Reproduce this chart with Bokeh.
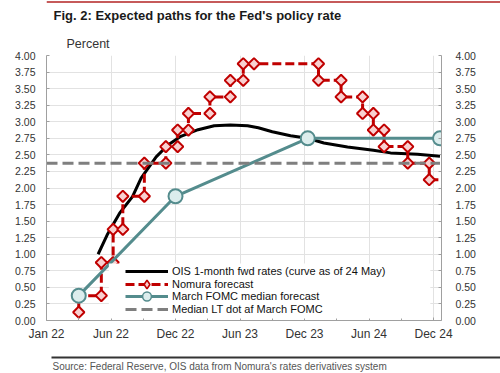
from bokeh.plotting import figure
from bokeh.layouts import column
from bokeh.models import (Range1d, LinearAxis, FixedTicker, Legend, LegendItem,
                          BoxAnnotation, PrintfTickFormatter)
from bokeh.core.properties import value
from bokeh.embed import file_html
from bokeh.resources import INLINE
import numpy as np

# ---------------- data ----------------
x_ticks = [0, 6, 12, 18, 24, 30, 36]
x_tick_labels = ["Jan 22", "Jun 22", "Dec 22", "Jun 23", "Dec 23", "Jun 24", "Dec 24"]
x_minor_ticks = [3, 9, 15, 21, 27, 33]
y_ticks = [0.0, 0.25, 0.5, 0.75, 1.0, 1.25, 1.5, 1.75, 2.0, 2.25, 2.5, 2.75,
           3.0, 3.25, 3.5, 3.75, 4.0]

ois_month = [4.8, 5.7, 6.8, 8.0, 8.8, 10.2, 11.3, 12.5, 14.1, 15.6, 17.1, 18.7,
             19.7, 21.0, 22.7, 24.3, 25.8, 28.0, 30.4, 32.0, 34.5, 36.6]
ois_rate = [1.00, 1.31, 1.62, 1.87, 2.15, 2.47, 2.65, 2.78, 2.88, 2.94, 2.95, 2.94,
            2.91, 2.85, 2.79, 2.75, 2.68, 2.62, 2.57, 2.53, 2.51, 2.48]

nomura_month = [3.0, 3.0, 5.1, 5.1, 6.2, 6.2, 7.1, 7.1, 9.1, 9.1, 11.1, 11.1,
                12.2, 12.2, 13.2, 13.2, 15.2, 15.2, 17.1, 17.1, 18.3, 18.3, 19.3,
                25.3, 25.3, 27.4, 27.4, 29.4, 29.4, 30.4, 30.4, 31.4, 31.4,
                33.6, 33.6, 35.6, 35.6, 36.6]
nomura_rate = [0.125, 0.375, 0.375, 0.875, 0.875, 1.375, 1.375, 1.875, 1.875, 2.375,
               2.375, 2.625, 2.625, 2.875, 2.875, 3.125, 3.125, 3.375, 3.375, 3.625,
               3.625, 3.875, 3.875, 3.875, 3.625, 3.625, 3.375, 3.375, 3.125, 3.125,
               2.875, 2.875, 2.625, 2.625, 2.375, 2.375, 2.125, 2.125]

fomc_month = [3.0, 12.0, 24.3, 36.6]
fomc_rate = [0.375, 1.875, 2.75, 2.75]

lt_month = [0.0, 36.6]
lt_rate = [2.375, 2.375]

title_text = "Fig. 2: Expected paths for the Fed's policy rate"
unit_text = "Percent"
source_text = "Source: Federal Reserve, OIS data from Nomura's rates derivatives system"
legend_labels = ["OIS 1-month fwd rates (curve as of 24 May)", "Nomura forecast",
                 "March FOMC median forecast", "Median LT dot af March FOMC"]

FONT = "Liberation Sans"
RED = "#C00000"
TEAL = "#548C8D"
GREY = "#7F7F7F"
AXIS = "#A0A0A0"
W = 500


def blank(height):
    f = figure(frame_width=W, frame_height=height, x_range=Range1d(0, W),
               y_range=Range1d(height, 0), x_axis_type=None, y_axis_type=None,
               min_border=0, min_border_left=0, min_border_right=0,
               min_border_top=0, min_border_bottom=0,
               output_backend="svg", toolbar_location=None)
    f.outline_line_color = None
    f.grid.visible = False
    f.background_fill_color = "white"
    f.border_fill_color = "white"
    return f


# ---------------- header ----------------
top = blank(50)
top.line([0, W], [1.5, 1.5], line_color="#C65A5A", line_width=2)
top.text(x=[7], y=[15], text=[title_text], text_font=value(FONT), text_font_size="13px",
         text_font_style="bold", text_color="#1A1A1A", text_baseline="middle")
top.text(x=[20], y=[43], text=[unit_text], text_font=value(FONT), text_font_size="12.5px",
         text_color="#333333", text_baseline="middle")

# ---------------- main chart ----------------
p = figure(frame_width=395, frame_height=265,
           min_border_left=46, min_border_right=59, min_border_top=5, min_border_bottom=22,
           x_range=Range1d(0, 36.74), y_range=Range1d(0, 4.0),
           output_backend="svg", toolbar_location=None)
p.outline_line_color = None
p.background_fill_color = "white"
p.border_fill_color = "white"

for ax in [p.xaxis[0], p.yaxis[0]]:
    ax.axis_line_color = AXIS
    ax.major_tick_line_color = AXIS
    ax.minor_tick_line_color = AXIS
    ax.major_tick_in = 3
    ax.major_tick_out = 0
    ax.minor_tick_in = 3
    ax.minor_tick_out = 0
    ax.major_label_text_font = FONT
    ax.major_label_text_color = "#333333"

p.xaxis[0].ticker = FixedTicker(ticks=x_ticks, minor_ticks=x_minor_ticks)
p.xaxis[0].major_label_overrides = {t: l for t, l in zip(x_ticks, x_tick_labels)}
p.xaxis[0].major_label_standoff = 6
p.xaxis[0].major_label_text_font_size = "12px"

p.yaxis[0].ticker = FixedTicker(ticks=y_ticks, minor_ticks=[])
p.yaxis[0].formatter = PrintfTickFormatter(format="%.2f")
p.yaxis[0].major_label_standoff = 11
p.yaxis[0].major_label_text_font_size = "10.5px"

ry = LinearAxis(ticker=FixedTicker(ticks=y_ticks, minor_ticks=[]),
                formatter=PrintfTickFormatter(format="%.2f"))
ry.axis_line_color = AXIS
ry.major_tick_line_color = AXIS
ry.major_tick_in = 3
ry.major_tick_out = 0
ry.major_label_text_font = FONT
ry.major_label_text_font_size = "10.5px"
ry.major_label_text_color = "#333333"
ry.major_label_standoff = 14
p.add_layout(ry, "right")

p.xgrid[0].ticker = FixedTicker(ticks=x_ticks[1:])
p.ygrid[0].ticker = FixedTicker(ticks=y_ticks)
p.xgrid.grid_line_color = "#E2E2E2"
p.ygrid.grid_line_color = "#E2E2E2"

# series
r_ois = p.line(ois_month, ois_rate, line_color="black", line_width=3)
r_nom_l = p.line(nomura_month, nomura_rate, line_color=RED, line_width=3, line_dash="9 4")
# diamond-shaped legend marker, hidden underneath the first full-size marker
leg_nom = p.scatter(nomura_month[:1], nomura_rate[:1], marker="diamond",
                    size=6, line_color=RED, line_width=1.6, fill_color="#F9D0D0")
p.scatter(nomura_month[:-1], nomura_rate[:-1], marker="square", angle=np.pi / 4,
          size=8, line_color=RED, line_width=2, fill_color="#F9D0D0")
r_fomc_l = p.line(fomc_month, fomc_rate, line_color=TEAL, line_width=3)
leg_fomc = p.scatter(fomc_month[:1], fomc_rate[:1], marker="circle", size=7,
                     line_color=TEAL, line_width=1.5, fill_color="#DCEDED")
p.scatter(fomc_month, fomc_rate, marker="circle", size=14,
          line_color=TEAL, line_width=2, fill_color="#DCEDED")
r_lt = p.line(lt_month, lt_rate, line_color=GREY, line_width=3, line_dash="11 5")

# legend white box
p.add_layout(BoxAnnotation(left=5.8, right=35.7, bottom=0.03, top=0.86,
                           fill_color="white", fill_alpha=1, line_color=None))

# one legend per row so that rows can sit close together with 22px glyph boxes
row_renderers = [[r_ois], [r_nom_l, leg_nom], [r_fomc_l, leg_fomc], [r_lt]]
row_bottoms = [38, 25.5, 13, 0.5]
for lab, rends, yb in zip(legend_labels, row_renderers, row_bottoms):
    lg = Legend(items=[LegendItem(label=lab, renderers=rends)], location=(79, yb))
    lg.background_fill_alpha = 0
    lg.border_line_color = None
    lg.padding = 0
    lg.margin = 0
    lg.spacing = 0
    lg.glyph_height = 22
    lg.glyph_width = 43
    lg.label_height = 12
    lg.label_standoff = 4
    lg.label_text_font = FONT
    lg.label_text_font_size = "11px"
    lg.label_text_color = "#111111"
    p.add_layout(lg)

# ---------------- footer ----------------
bottom = blank(31)
bottom.line([5, 488], [14, 14], line_color="#333333", line_width=2)
bottom.text(x=[6], y=[23], text=[source_text], text_font=value(FONT), text_font_size="10px",
            text_color="#555555", text_baseline="middle")

layout = column(top, p, bottom, spacing=0)
open("out.html", "w").write(file_html(layout, INLINE))
